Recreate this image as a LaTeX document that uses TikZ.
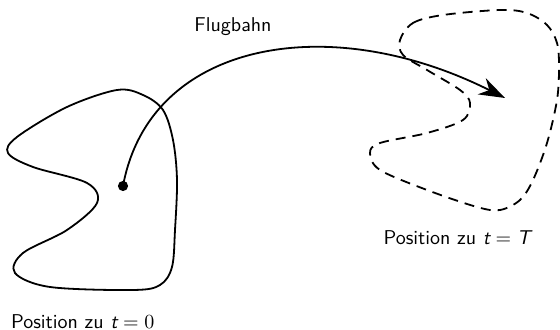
\documentclass[tikz,border=0pt]{standalone}
\usepackage{sansmath}
\usetikzlibrary{arrows.meta,positioning}

\begin{document}
\begin{tikzpicture}[
  x=0.5pt, y=0.5pt,
  lbl/.style={font=\sffamily\sansmath},
  blob/.style={line width=0.9pt},
  blobT/.style={blob, dash pattern=on 5pt off 3.5pt},
  bahn/.style={-{Stealth[length=13pt, width=9pt]}, line width=0.9pt},
]
  \useasboundingbox (0,0) rectangle (560,330);

  % Gebiet zu t = 0
  \draw[blob] plot[smooth cycle, tension=0.55] coordinates {
    (117,240) (143,235) (163,220) (173,190) (177,150) (175,100) (172,63)
    (160,45) (133,40) (50,43) (15,57) (23,77) (67,100) (97,127) (87,147)
    (33,163) (8,177) (17,193) (67,223)};

  % Gebiet zu t = T
  \draw[blobT] plot[smooth cycle, tension=0.55] coordinates {
    (400,290) (413,307) (443,315) (500,320) (527,317) (547,305) (557,287)
    (559,263) (557,230) (547,187) (533,150) (520,130) (500,120) (477,123)
    (427,140) (380,160) (370,177) (380,187) (427,197) (463,210) (470,227)
    (460,240) (427,260) (403,275)};

  % Flugbahn
  \node[circle, fill, inner sep=1.8pt] (start) at (123,144) {};
  \coordinate (ziel) at (505,232);
  \draw[bahn] (start.center) .. controls (150,290) and (330,320) .. (ziel);

  % Beschriftungen
  \node[lbl] (flug) at (233,303) {Flugbahn};
  \node[lbl, anchor=west] (pos0) at (4,8) {Position zu $\textit{t}=0$};
  \node[lbl] (posT) at (457,92) {Position zu $\textit{t}=\textit{T}$};
\end{tikzpicture}
\end{document}
